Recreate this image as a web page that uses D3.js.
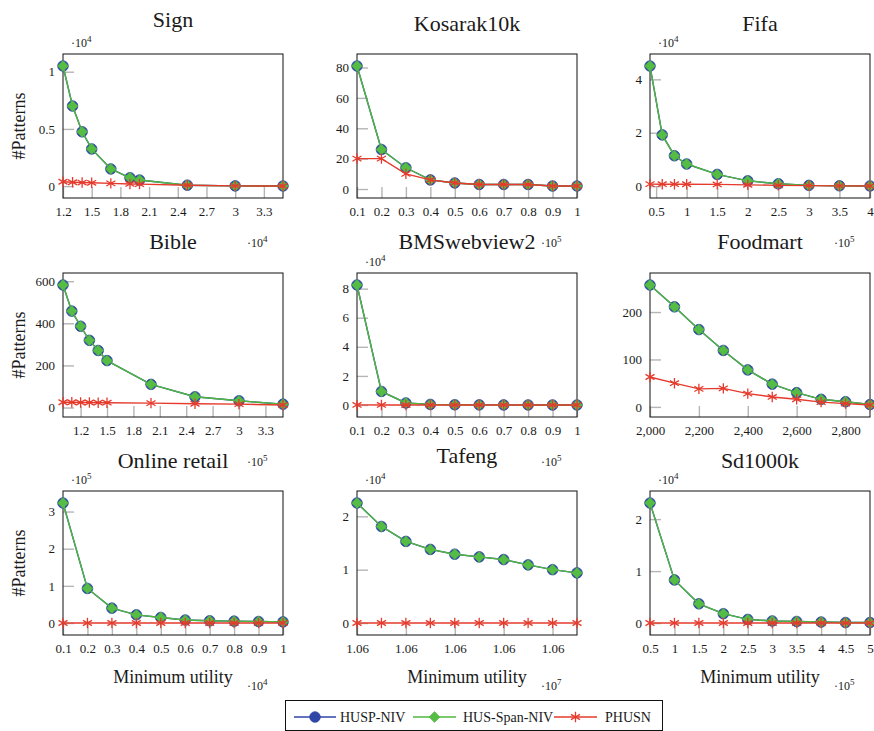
<!DOCTYPE html>
<html>
<head>
<meta charset="utf-8">
<script src="https://cdn.jsdelivr.net/npm/d3@7"></script>
<style>
  html, body { margin: 0; padding: 0; background: #fff; }
  svg text { font-family: "Liberation Serif", "DejaVu Serif", serif; fill: #1a1a1a; }
</style>
</head>
<body>
<svg id="chart" width="874" height="731"></svg>
<script>
// ---------------- DATA ----------------
const titles = ["Sign", "Kosarak10k", "Fifa", "Bible", "BMSwebview2", "Foodmart", "Online retail", "Tafeng", "Sd1000k"];
const seriesNames = ["HUSP-NIV", "HUS-Span-NIV", "PHUSN"];

// Sign
const signX = [12000, 13000, 14000, 15000, 17000, 19000, 20000, 25000, 30000, 35000];
const signHUSP = [10500, 7000, 4750, 3250, 1500, 730, 530, 80, 20, 10];
const signSpan = [10500, 7000, 4750, 3250, 1500, 730, 530, 80, 20, 10];
const signPHUSN = [380, 340, 310, 290, 240, 190, 170, 80, 20, 10];
const signXTicks = [12000, 15000, 18000, 21000, 24000, 27000, 30000, 33000];
const signYTicks = [0, 5000, 10000];

// Kosarak10k
const kosX = [10000, 20000, 30000, 40000, 50000, 60000, 70000, 80000, 90000, 100000];
const kosHUSP = [81, 26, 14, 6, 4, 3, 3, 3, 2, 2];
const kosSpan = [81, 26, 14, 6, 4, 3, 3, 3, 2, 2];
const kosPHUSN = [20, 20, 10, 6, 4, 3, 3, 3, 2, 2];
const kosXTicks = [10000, 20000, 30000, 40000, 50000, 60000, 70000, 80000, 90000, 100000];
const kosYTicks = [0, 20, 40, 60, 80];

// Fifa
const fifaX = [40000, 60000, 80000, 100000, 150000, 200000, 250000, 300000, 350000, 400000];
const fifaHUSP = [45000, 19200, 11400, 8300, 4400, 2000, 900, 300, 150, 80];
const fifaSpan = [45000, 19200, 11400, 8300, 4400, 2000, 900, 300, 150, 80];
const fifaPHUSN = [750, 740, 730, 720, 650, 500, 300, 200, 120, 60];
const fifaXTicks = [50000, 100000, 150000, 200000, 250000, 300000, 350000, 400000];
const fifaYTicks = [0, 20000, 40000];

// Bible
const bibleX = [100000, 110000, 120000, 130000, 140000, 150000, 200000, 250000, 300000, 350000];
const bibleHUSP = [582, 458, 386, 319, 271, 223, 110, 51, 32, 16];
const bibleSpan = [582, 458, 386, 319, 271, 223, 110, 51, 32, 16];
const biblePHUSN = [25, 25, 24, 24, 23, 23, 21, 18, 16, 12];
const bibleXTicks = [120000, 150000, 180000, 210000, 240000, 270000, 300000, 330000];
const bibleYTicks = [0, 200, 400, 600];

// BMSwebview2
const bmsX = [10000, 20000, 30000, 40000, 50000, 60000, 70000, 80000, 90000, 100000];
const bmsHUSP = [82500, 9300, 1400, 400, 200, 100, 60, 40, 30, 20];
const bmsSpan = [82500, 9300, 1400, 400, 200, 100, 60, 40, 30, 20];
const bmsPHUSN = [60, 45, 30, 20, 15, 10, 8, 6, 5, 4];
const bmsXTicks = [10000, 20000, 30000, 40000, 50000, 60000, 70000, 80000, 90000, 100000];
const bmsYTicks = [0, 20000, 40000, 60000, 80000];

// Foodmart
const foodX = [2000, 2100, 2200, 2300, 2400, 2500, 2600, 2700, 2800, 2900];
const foodHUSP = [257, 211, 163, 119, 78, 48, 30, 16, 11, 5];
const foodSpan = [257, 211, 163, 119, 78, 48, 30, 16, 11, 5];
const foodPHUSN = [63, 50, 38, 39, 28, 21, 16, 10, 7, 4];
const foodXTicks = [2000, 2200, 2400, 2600, 2800];
const foodYTicks = [0, 100, 200];

// Online retail
const retailX = [1000, 2000, 3000, 4000, 5000, 6000, 7000, 8000, 9000, 10000];
const retailHUSP = [323000, 93000, 40000, 22000, 15000, 8000, 6000, 5000, 4000, 3000];
const retailSpan = [323000, 93000, 40000, 22000, 15000, 8000, 6000, 5000, 4000, 3000];
const retailPHUSN = [30, 28, 25, 22, 20, 18, 15, 12, 10, 8];
const retailXTicks = [1000, 2000, 3000, 4000, 5000, 6000, 7000, 8000, 9000, 10000];
const retailYTicks = [0, 100000, 200000, 300000];

// Tafeng
const tafengX = [10600000, 10601000, 10602000, 10603000, 10604000, 10605000, 10606000, 10607000, 10608000, 10609000];
const tafengHUSP = [22500, 18100, 15300, 13800, 12900, 12400, 11900, 10900, 10000, 9400];
const tafengSpan = [22500, 18100, 15300, 13800, 12900, 12400, 11900, 10900, 10000, 9400];
const tafengPHUSN = [5, 5, 5, 5, 5, 5, 5, 5, 5, 5];
const tafengXTicks = [10600000, 10602000, 10604000, 10606000, 10608000];
const tafengXTickLabels = ["1.06", "1.06", "1.06", "1.06", "1.06"];
const tafengYTicks = [0, 10000, 20000];

// Sd1000k
const sdX = [50000, 100000, 150000, 200000, 250000, 300000, 350000, 400000, 450000, 500000];
const sdHUSP = [23100, 8300, 3700, 1800, 700, 400, 300, 200, 100, 100];
const sdSpan = [23100, 8300, 3700, 1800, 700, 400, 300, 200, 100, 100];
const sdPHUSN = [10, 10, 10, 10, 10, 10, 10, 10, 10, 10];
const sdXTicks = [50000, 100000, 150000, 200000, 250000, 300000, 350000, 400000, 450000, 500000];
const sdYTicks = [0, 10000, 20000];

// scale exponents (the "·10^n" labels)
const xExponents = [4, 5, 5, 5, 5, 0, 4, 7, 5];
const yExponents = [4, 0, 4, 0, 4, 0, 5, 4, 4];

// ---------------- PANELS ----------------
const panels = [
  { x: signX, s: [signHUSP, signSpan, signPHUSN], xt: signXTicks, yt: signYTicks },
  { x: kosX, s: [kosHUSP, kosSpan, kosPHUSN], xt: kosXTicks, yt: kosYTicks },
  { x: fifaX, s: [fifaHUSP, fifaSpan, fifaPHUSN], xt: fifaXTicks, yt: fifaYTicks },
  { x: bibleX, s: [bibleHUSP, bibleSpan, biblePHUSN], xt: bibleXTicks, yt: bibleYTicks },
  { x: bmsX, s: [bmsHUSP, bmsSpan, bmsPHUSN], xt: bmsXTicks, yt: bmsYTicks },
  { x: foodX, s: [foodHUSP, foodSpan, foodPHUSN], xt: foodXTicks, yt: foodYTicks, xComma: true },
  { x: retailX, s: [retailHUSP, retailSpan, retailPHUSN], xt: retailXTicks, yt: retailYTicks },
  { x: tafengX, s: [tafengHUSP, tafengSpan, tafengPHUSN], xt: tafengXTicks, yt: tafengYTicks, xLabels: tafengXTickLabels },
  { x: sdX, s: [sdHUSP, sdSpan, sdPHUSN], xt: sdXTicks, yt: sdYTicks }
];

// ---------------- LAYOUT ----------------
const colLeft = [63, 357, 650];
const rowTop = [54, 273, 491];
const W = 220, H = 144;
const titleOffset = [27, 23, 23, 24, 24, 24, 23, 28, 23];

const colors = {
  blue: "#2f46a6",
  green: "#56bd44",
  greenLine: "#4fb63f",
  red: "#e53a2c",
  tick: "#b5b5b5"
};

const svg = d3.select("#chart");
const num = d3.format(".4~g");
const comma = d3.format(",");

function drawScaleLabel(g, x, y, exp) {
  const t = g.append("text").attr("x", x).attr("y", y).style("font-size", "12px");
  t.append("tspan").text("·10");
  t.append("tspan").attr("dy", -5).style("font-size", "9px").text(exp);
}

function starPath(r) {
  let p = "";
  [90, 30, 150].forEach(a => {
    const rad = a * Math.PI / 180;
    const dx = r * Math.cos(rad), dy = r * Math.sin(rad);
    p += `M${-dx},${dy}L${dx},${-dy}`;
  });
  return p;
}

function drawMarker(g, kind, cx, cy) {
  if (kind === 0) {
    g.append("circle").attr("cx", cx).attr("cy", cy).attr("r", 5.3)
      .attr("fill", colors.blue).attr("stroke", colors.blue).attr("stroke-width", 0.8);
  } else if (kind === 1) {
    const r = 5.4;
    g.append("path").attr("d", `M${cx},${cy - r}L${cx + r},${cy}L${cx},${cy + r}L${cx - r},${cy}Z`)
      .attr("fill", colors.green).attr("stroke", colors.greenLine).attr("stroke-width", 0.6);
  } else {
    g.append("path").attr("d", starPath(5.2)).attr("transform", `translate(${cx},${cy})`)
      .attr("fill", "none").attr("stroke", colors.red).attr("stroke-width", 1.3);
  }
}

panels.forEach((p, i) => {
  const col = i % 3, row = Math.floor(i / 3);
  const left = colLeft[col], top = rowTop[row];
  const g = svg.append("g").attr("transform", `translate(${left},${top})`);

  const xs = d3.scaleLinear().domain(d3.extent(p.x)).range([0, W]);
  const all = p.s.flat();
  const mn = d3.min(all), mx = d3.max(all), rg = mx - mn;
  const ys = d3.scaleLinear().domain([mn - 0.1 * rg, mx + 0.1 * rg]).range([H, 0]);

  const xe = Math.pow(10, xExponents[i]);
  const ye = Math.pow(10, yExponents[i]);

  // ticks (gray, inside)
  const xAxis = d3.axisBottom(xs).tickValues(p.xt).tickSizeInner(-11).tickSizeOuter(0)
    .tickFormat((d, k) => p.xLabels ? p.xLabels[k] : (p.xComma ? comma(d) : num(d / xe)));
  const xa = g.append("g").attr("transform", `translate(0,${H})`).call(xAxis);
  xa.select(".domain").remove();
  xa.selectAll("line").attr("stroke", colors.tick).attr("stroke-width", 1.4);
  xa.selectAll("text").attr("y", 9).attr("dy", "0.71em").style("font-size", "13px")
    .style("font-family", "Liberation Serif, serif").attr("fill", "#1a1a1a");

  const yAxis = d3.axisLeft(ys).tickValues(p.yt).tickSizeInner(-11).tickSizeOuter(0)
    .tickFormat(d => num(d / ye));
  const ya = g.append("g").call(yAxis);
  ya.select(".domain").remove();
  ya.selectAll("line").attr("stroke", colors.tick).attr("stroke-width", 1.4);
  ya.selectAll("text").attr("x", -8).style("font-size", "13px")
    .style("font-family", "Liberation Serif, serif").attr("fill", "#1a1a1a");

  // frame
  g.append("rect").attr("x", 0).attr("y", 0).attr("width", W).attr("height", H)
    .attr("fill", "none").attr("stroke", "#111").attr("stroke-width", 1);

  // series
  const lineColors = [colors.blue, colors.greenLine, colors.red];
  p.s.forEach((vals, k) => {
    const line = d3.line().x((d, j) => xs(p.x[j])).y(d => ys(d));
    g.append("path").datum(vals).attr("d", line).attr("fill", "none")
      .attr("stroke", lineColors[k]).attr("stroke-width", 1.4);
    vals.forEach((v, j) => drawMarker(g, k, xs(p.x[j]), ys(v)));
  });

  // title
  g.append("text").attr("x", W / 2).attr("y", -titleOffset[i]).attr("text-anchor", "middle")
    .style("font-size", "22px").text(titles[i]);

  // y scale label
  if (yExponents[i] > 0) drawScaleLabel(g, 8, -7, yExponents[i]);

  // x scale label
  if (xExponents[i] > 0) drawScaleLabel(g, W - 36, H + (row === 2 ? 55 : 49), xExponents[i]);

  // axis labels
  if (col === 0) {
    g.append("text").attr("transform", `translate(-38,${H / 2}) rotate(-90)`)
      .attr("text-anchor", "middle").style("font-size", "18px").text("#Patterns");
  }
  if (row === 2) {
    g.append("text").attr("x", W / 2).attr("y", H + 48).attr("text-anchor", "middle")
      .style("font-size", "18px").text("Minimum utility");
  }
});

// ---------------- LEGEND ----------------
const lg = svg.append("g");
lg.append("rect").attr("x", 285.5).attr("y", 700.5).attr("width", 377).attr("height", 30)
  .attr("fill", "#fff").attr("stroke", "#111").attr("stroke-width", 1);
const legendPos = [{ x1: 294, x2: 336, tx: 340 }, { x1: 413, x2: 456, tx: 463 }, { x1: 554, x2: 597, tx: 605 }];
const legendLineColors = [colors.blue, colors.greenLine, colors.red];
seriesNames.forEach((name, k) => {
  const lp = legendPos[k];
  const cy = 717;
  lg.append("line").attr("x1", lp.x1).attr("x2", lp.x2).attr("y1", cy).attr("y2", cy)
    .attr("stroke", legendLineColors[k]).attr("stroke-width", 1.4);
  drawMarker(lg, k, (lp.x1 + lp.x2) / 2, cy);
  lg.append("text").attr("x", lp.tx).attr("y", cy + 5).style("font-size", "14px").text(name);
});
</script>
</body>
</html>
